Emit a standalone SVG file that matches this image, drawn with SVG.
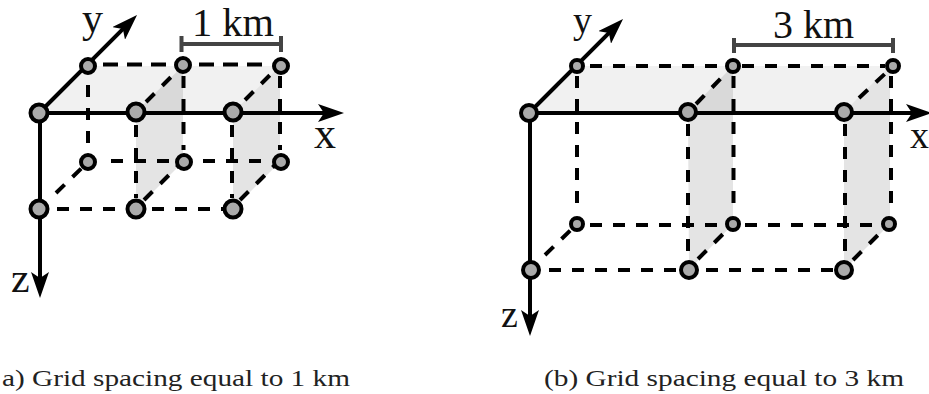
<svg xmlns="http://www.w3.org/2000/svg" width="929" height="394" viewBox="0 0 929 394">
<style>
.lbl{font-family:"Liberation Serif","Times New Roman",serif;fill:#111}
.cap{font-family:"Liberation Serif","Times New Roman",serif;font-size:24px;fill:#222}
.ax{stroke:#000;stroke-width:4;fill:none}
.d{stroke:#000;stroke-width:4;fill:none;stroke-dasharray:12 11}
.t{stroke:#000;stroke-width:4;fill:none;stroke-dasharray:15 9}
.br{stroke:#444;stroke-width:4;fill:none}
.n{fill:#aaa;stroke:#000;stroke-width:4}
.top{fill:#f1f1f1}
.side{fill:#e4e4e4}
.over{fill:#d9d9d9}
</style>
<defs>
<marker id="ah" viewBox="0 0 26 18" refX="8" refY="9" markerWidth="26" markerHeight="18" markerUnits="userSpaceOnUse" orient="auto"><path d="M0 0L26 9L0 18L6 9Z" fill="#000"/></marker>
</defs>
<g id="faces">
<path class="top" d="M39 113L88 66H280L233 112Z"/>
<path class="side" d="M136 112L183 66V162L136 209Z"/>
<path class="side" d="M233 112L280 66V162L233 209Z"/>
<path class="over" d="M136 112L183 66V112Z"/>
<path class="top" d="M529 113L577 66H893L844 112Z"/>
<path class="side" d="M688 112L733 66V224L689 270Z"/>
<path class="side" d="M844 112L890 66V224L844 270Z"/>
<path class="over" d="M688 112L733 66V112Z"/>
</g>
<g id="connectors">
<line class="ax" x1="39" y1="113" x2="326" y2="113" marker-end="url(#ah)"/>
<line class="ax" x1="40" y1="113" x2="40" y2="280" marker-end="url(#ah)"/>
<line class="ax" x1="39" y1="113" x2="124.300" y2="27.700" marker-end="url(#ah)"/>
<path class="t" d="M103 64.500H170M199 64.500H270"/>
<path class="d" d="M88 85V150M183.500 76V150M280 76V150M136 125V198M232 125V198M111 161H184M203 161H270M57 209H136M152 209H225M56 193L88 162M144 200L180 164M240 200L276 164M146 102L180 68M245 100L276 69"/>
<line class="ax" x1="529" y1="113" x2="914" y2="113" marker-end="url(#ah)"/>
<line class="ax" x1="530" y1="113" x2="530" y2="318" marker-end="url(#ah)"/>
<line class="ax" x1="529" y1="113" x2="610.300" y2="31.700" marker-end="url(#ah)"/>
<path class="d" d="M590 66H725M742 66H885M577 76V214M733.500 76V214M891 76V214M688 124V270M845 124V262M590 225H725M745 225H880M549 270H681M706 270H836M545 255L577 224M698 259L730 227M853 260L886 227M696 104L728 71M859 98L888 71"/>
<path class="br" d="M181.500 36V52M181.500 44H281M281 36V52"/>
<path class="br" d="M734 38V53M734 45H893M893 38V53"/>
</g>
<g id="n1"><circle class="n" cx="39" cy="113" r="8.500"/></g>
<g id="n2"><circle class="n" cx="136" cy="112" r="8.500"/></g>
<g id="n3"><circle class="n" cx="233" cy="112" r="8.500"/></g>
<g id="n4"><circle class="n" cx="88" cy="66" r="7"/></g>
<g id="n5"><circle class="n" cx="183" cy="65" r="7"/></g>
<g id="n6"><circle class="n" cx="281" cy="66" r="7"/></g>
<g id="n7"><circle class="n" cx="88" cy="162" r="7"/></g>
<g id="n8"><circle class="n" cx="184" cy="162" r="7"/></g>
<g id="n9"><circle class="n" cx="281" cy="162" r="7"/></g>
<g id="n10"><circle class="n" cx="39" cy="209" r="8.500"/></g>
<g id="n11"><circle class="n" cx="136" cy="209" r="8.500"/></g>
<g id="n12"><circle class="n" cx="233" cy="209" r="8.500"/></g>
<g id="m1"><circle class="n" cx="529" cy="113" r="8"/></g>
<g id="m2"><circle class="n" cx="688" cy="112" r="8"/></g>
<g id="m3"><circle class="n" cx="844" cy="112" r="8"/></g>
<g id="m4"><circle class="n" cx="577" cy="66" r="6"/></g>
<g id="m5"><circle class="n" cx="733" cy="66" r="6"/></g>
<g id="m6"><circle class="n" cx="893" cy="66" r="6"/></g>
<g id="m7"><circle class="n" cx="577" cy="224" r="6"/></g>
<g id="m8"><circle class="n" cx="733" cy="224" r="6"/></g>
<g id="m9"><circle class="n" cx="889" cy="224" r="6"/></g>
<g id="m10"><circle class="n" cx="531" cy="270" r="8"/></g>
<g id="m11"><circle class="n" cx="689" cy="270" r="8"/></g>
<g id="m12"><circle class="n" cx="844" cy="270" r="8"/></g>
<g id="labels">
<text class="lbl" font-size="42" x="82" y="32">y</text>
<text class="lbl" font-size="44" x="314" y="148">x</text>
<text class="lbl" font-size="42" x="11" y="292">z</text>
<text class="lbl" font-size="41" x="192" y="36" textLength="82" lengthAdjust="spacingAndGlyphs">1 km</text>
<text class="lbl" font-size="38" x="573" y="33">y</text>
<text class="lbl" font-size="38" x="910" y="148">x</text>
<text class="lbl" font-size="38" x="501" y="327">z</text>
<text class="lbl" font-size="41" x="773" y="38" textLength="81" lengthAdjust="spacingAndGlyphs">3 km</text>
<text class="cap" x="2" y="386" textLength="348" lengthAdjust="spacingAndGlyphs">a) Grid spacing equal to 1 km</text>
<text class="cap" x="544" y="386" textLength="360" lengthAdjust="spacingAndGlyphs">(b) Grid spacing equal to 3 km</text>
</g>
</svg>
